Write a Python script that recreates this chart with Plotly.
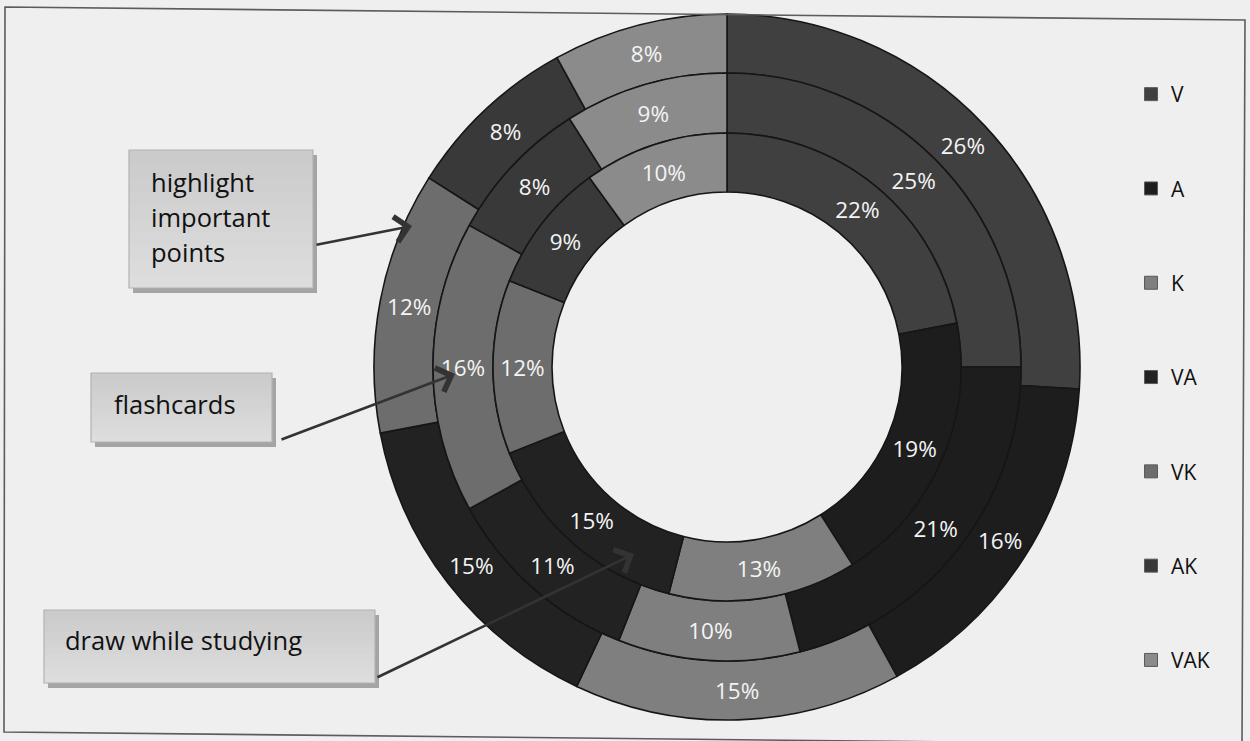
import plotly.graph_objects as go

# Learning-style shares (%) for the three study strategies, one ring each
styles = ["V", "A", "K", "VA", "VK", "AK", "VAK"]
outer_ring = [26, 16, 15, 15, 12, 8, 8]      # highlight important points
middle_ring = [25, 21, 10, 11, 16, 8, 9]     # flashcards
inner_ring = [22, 19, 13, 15, 12, 9, 10]     # draw while studying

style_colors = ["#404040", "#1d1d1d", "#7f7f7f", "#222222", "#6d6d6d", "#393939", "#8b8b8b"]

callouts = ["highlight<br>important<br>points", "flashcards", "draw while studying"]

W, H = 1250, 741
CX, CY = 727, 367
# ring edges in pixels: outer, outer/middle, middle/inner, hole
EDGES = [353, 294, 234, 175]

BG = "#efefef"
FONT = "Open Sans"


def px(x):
    return x / W


def py(y):
    return 1 - y / H


def ring_domain(r):
    return dict(x=[px(CX - r), px(CX + r)], y=[py(CY + r), py(CY - r)])


fig = go.Figure()

for i, vals in enumerate([outer_ring, middle_ring, inner_ring]):
    r_out, r_in = EDGES[i], EDGES[i + 1]
    fig.add_trace(go.Pie(
        labels=styles,
        values=vals,
        sort=False,
        direction="clockwise",
        rotation=0,
        hole=r_in / r_out,
        domain=ring_domain(r_out),
        marker=dict(colors=style_colors, line=dict(color="#161616", width=1.6)),
        texttemplate="%{value}%",
        textposition="inside",
        insidetextorientation="horizontal",
        textfont=dict(family=FONT, size=22.5, color="#f4f4f4"),
        hoverinfo="skip",
        showlegend=False,
    ))

# legend entries, one group per style so the groups can be spaced apart
for name, col in zip(styles, style_colors):
    fig.add_trace(go.Scatter(
        x=[None], y=[None], mode="markers", name=name, legendgroup=name,
        marker=dict(symbol="square", size=13, color=col,
                    line=dict(color="#5a5a5a", width=1)),
        hoverinfo="skip",
    ))

shapes = []

# page frame, slightly skewed like a scanned sheet
shapes.append(dict(
    type="path", xref="paper", yref="paper",
    path=(f"M {px(5)},{py(7)} L {px(1245)},{py(20)} "
          f"L {px(1242)},{py(745)} L {px(4)},{py(732)} Z"),
    line=dict(color="#5c5c5c", width=1.6), fillcolor="rgba(0,0,0,0)",
))

# callout boxes: (x0, y0, x1, y1) in pixels, drop shadow then a soft vertical gradient
boxes = [(129, 150, 313, 288), (91, 373, 272, 442), (44, 610, 375, 683)]
for (x0, y0, x1, y1) in boxes:
    shapes.append(dict(type="rect", xref="paper", yref="paper",
                       x0=px(x0 + 4), x1=px(x1 + 4), y0=py(y1 + 5), y1=py(y0 + 5),
                       fillcolor="#a4a4a4", line=dict(width=0)))
    n = 10
    for k in range(n):
        t = k / (n - 1)
        g = int(round(0xcb + (0xdd - 0xcb) * t))
        ya = y0 + (y1 - y0) * k / n
        # each band runs to the bottom edge so the bands overlap without seams
        shapes.append(dict(type="rect", xref="paper", yref="paper",
                           x0=px(x0), x1=px(x1), y0=py(y1), y1=py(ya),
                           fillcolor=f"rgb({g},{g},{g})", line=dict(width=0)))
    shapes.append(dict(type="rect", xref="paper", yref="paper",
                       x0=px(x0), x1=px(x1), y0=py(y1), y1=py(y0),
                       fillcolor="rgba(0,0,0,0)", line=dict(color="#b2b2b2", width=1.2)))

annotations = []
# first-line position of each callout; lines are 35 px apart
text_pos = [(149, 182), (112, 404), (63, 640)]
for txt, (tx, ty) in zip(callouts, text_pos):
    for j, line in enumerate(txt.split("<br>")):
        annotations.append(dict(
            text=line, xref="paper", yref="paper", x=px(tx), y=py(ty + 35 * j),
            xanchor="left", yanchor="middle", align="left", showarrow=False,
            font=dict(family=FONT, size=25.5, color="#111111"),
        ))

# arrows from each box to its ring: (tail, head) in pixels
arrows = [((315, 245), (412, 226)), ((280, 440), (455, 374)), ((376, 678), (634, 554))]
for (tx, ty), (hx, hy) in arrows:
    annotations.append(dict(
        x=px(hx), y=py(hy), ax=tx - hx, ay=ty - hy,
        xref="paper", yref="paper", axref="pixel", ayref="pixel",
        text="", showarrow=True, arrowhead=4, arrowsize=1.9, arrowwidth=2.6,
        arrowcolor="#333333", standoff=0,
    ))

fig.update_layout(
    width=W, height=H,
    margin=dict(l=0, r=0, t=0, b=0),
    paper_bgcolor=BG, plot_bgcolor=BG,
    xaxis=dict(visible=False), yaxis=dict(visible=False),
    shapes=shapes, annotations=annotations,
    legend=dict(
        x=px(1131), y=py(74), xanchor="left", yanchor="top",
        font=dict(family=FONT, size=21, color="#111111"),
        bgcolor="rgba(0,0,0,0)", tracegroupgap=64, itemsizing="trace",
    ),
    showlegend=True,
)

fig.write_html("out.html")
